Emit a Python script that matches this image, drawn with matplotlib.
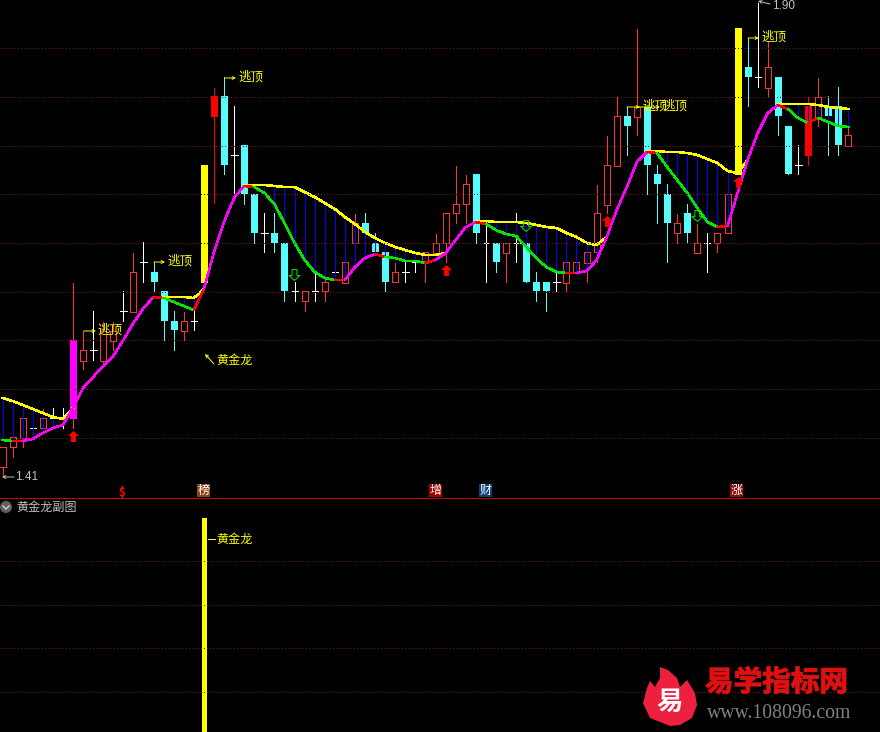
# 黄金龙 主图 + 副图
import matplotlib
matplotlib.use('Agg')
import matplotlib.pyplot as plt
import matplotlib.patheffects as pe
from matplotlib.patches import Polygon, Rectangle, Circle

plt.rcParams['font.family'] = ['Noto Sans CJK SC', 'DejaVu Sans']

nan = float('nan')

# K线: r空心阳 R实心阳 c阴 w十字 m紫柱 y黄柱
kinds = ('rrrwrwwmrw' 'rrwrwcccrw' 'yRcwccwccw' 'rwrwrrcccr' 'wwrrrrrcwc'
         'rwcccwrrrr' 'rrcrcccrcr' 'wrrycwrccw' 'Rrccr')
body_top = [51, 61, 80, 70, 80, 80, 80, 158, 148, 148, 167, 167, 187, 226, 236, 226, 207, 177, 177, 177,
            333, 402, 402, 343, 353, 304, 265, 265, 255, 207, 207, 207, 216, 226, 236, 275, 275, 255, 246, 226,
            226, 236, 246, 255, 285, 294, 314, 324, 255, 255, 255, 255, 255, 216, 216, 216, 236, 236, 246, 285,
            333, 382, 382, 391, 391, 324, 304, 275, 285, 255, 255, 265, 304, 470, 431, 421, 431, 421, 372, 333,
            392, 401, 392, 392, 363]
body_bot = [31, 51, 60, 70, 70, 80, 80, 79, 137, 148, 137, 157, 187, 186, 236, 216, 177, 168, 167, 177,
            215, 381, 333, 343, 304, 265, 265, 255, 207, 207, 197, 207, 207, 226, 215, 255, 265, 246, 216, 216,
            226, 236, 236, 245, 255, 285, 294, 265, 255, 236, 245, 255, 216, 207, 207, 216, 215, 226, 235, 246,
            293, 332, 372, 381, 333, 314, 275, 265, 265, 245, 255, 255, 265, 323, 421, 421, 410, 382, 324, 333,
            342, 381, 382, 353, 352]
highs = [51, 61, 80, 72, 89, 90, 90, 215, 167, 187, 176, 176, 207, 245, 256, 236, 207, 187, 186, 200,
         333, 410, 421, 392, 353, 304, 285, 285, 255, 216, 207, 225, 225, 227, 236, 284, 285, 265, 246, 235,
         236, 236, 246, 264, 285, 332, 323, 324, 276, 255, 255, 285, 255, 226, 216, 226, 236, 236, 246, 313,
         362, 401, 391, 469, 391, 333, 314, 284, 294, 274, 265, 265, 304, 470, 460, 495, 456, 421, 372, 353,
         401, 420, 402, 411, 372]
lows = [21, 41, 51, 68, 65, 70, 70, 70, 129, 138, 131, 148, 177, 186, 216, 207, 158, 148, 158, 168,
        215, 295, 324, 305, 294, 255, 246, 246, 197, 197, 187, 197, 197, 225, 215, 255, 255, 246, 207, 216,
        216, 226, 216, 238, 236, 275, 275, 255, 216, 226, 216, 236, 216, 197, 187, 207, 207, 226, 216, 236,
        285, 332, 343, 363, 304, 275, 236, 255, 255, 245, 226, 246, 265, 323, 392, 411, 401, 363, 324, 324,
        333, 372, 343, 343, 352]

# 下轨 (随趋势变色)
lower = [58, 57, 57, 59, 65, 70, 73, 90, 110, 121, 132, 142, 158, 175, 190, 201, 200, 196, 192, 188,
         209, 246, 276, 300, 312, 311, 305, 294, 275, 255, 238, 226, 220, 218, 218, 231, 240, 244, 241, 240,
         237, 237, 235, 238, 245, 258, 271, 276, 274, 268, 264, 262, 251, 240, 231, 226, 225, 225, 227, 238,
         261, 288, 311, 336, 346, 345, 331, 318, 305, 290, 276, 271, 272, 305, 338, 365, 385, 393, 389, 380,
         375, 380, 376, 372, 371]
# 每段颜色
seg_colors = ('grmmmmmmmmmmmmm' 'rgggr' 'mmmm' 'r' 'gggggggg' 'r' 'mmm' 'r' 'gggg' 'r' 'mmmm' 'r' 'gggggggg'
              'r' 'mmmmmmm' 'r' 'gggggg' 'r' 'mmmmm' 'r' 'gg' 'r' 'ggg')

# 上轨 (黄线)
upper = [100, 97, 93, 89, 85, 81, 79, 90, nan, nan, nan, nan, nan, nan, nan,
         201, 201, 201, 201, 200, 209, nan, nan, nan,
         313, 313, 313, 312, 311, 311, 306, 301, 295, 289, 281, 274, 266, 260, 255, 251, 248, 245, 243, 243, 245,
         nan, nan,
         277, 277, 276, 276, 276, 275, 273, 271, 270, 265, 261, 255, 253, 261, nan, nan, nan,
         347, 347, 346, 346, 345, 343, 339, 335, 327, 325, 338, nan, nan,
         394, 394, 394, 394, 393, 391, 390, 389]

# 上下轨之间画蓝柱的位置
stick_idx = list(range(0, 7)) + list(range(16, 20)) + list(range(26, 44)) + list(range(49, 60)) \
    + list(range(66, 73)) + list(range(78, 85))

# 买卖箭头
buy_idx = [7, 44, 60, 73]
buy_val = [62, 228, 277, 316]
sell_idx = [29, 52, 69]
sell_val = [223, 272, 282]

# 副图信号
sub_idx = [20]
sub_val = [1.0]

# 索引0在x=2.5, 间距10.07
W, H = 880, 732
x_left = -2.5 / 10.07
x_right = (W - 2.5) / 10.07

fig = plt.figure(figsize=(W / 100, H / 100), dpi=100, facecolor='black')
ax = fig.add_axes([0, (H - 498) / H, 1, 498 / H])
ax_sub = fig.add_axes([0, 0, 1, (H - 499) / H])
ov = fig.add_axes([0, 0, 1, 1])
for a in (ax, ax_sub, ov):
    a.axis('off')
    a.patch.set_alpha(0)

ax.set_xlim(x_left, x_right)
ax.set_ylim(0, 498)
ax_sub.set_xlim(x_left, x_right)
ax_sub.set_ylim(0, 233 / 214)
ov.set_xlim(0, W)
ov.set_ylim(H, 0)

px = 0.7  # 约1像素的线宽

RED = '#ff3232'
CYAN = '#54fcfc'
YELLOW = '#ffff00'
MAGENTA = '#ff00ff'
GREEN = '#00e800'
BLUE = '#0000ff'
GRID = '#701212'
LABEL = '#c0c0c0'
seg_map = {'g': GREEN, 'r': '#ff0000', 'm': MAGENTA}

# 网格
for y in [48, 97, 146, 194, 243, 292, 340, 389, 438, 561, 605, 648, 692]:
    ov.plot([0, W], [y, y], color=GRID, lw=px, linestyle=(0, (1, 3)), antialiased=False, zorder=1)
ov.plot([0, W], [498, 498], color='#c80000', lw=px, antialiased=False, zorder=1)

# 画K线, 实心柱中心右移半像素才能和影线对齐
for i, k in enumerate(kinds):
    if k == 'y':
        ax.bar(i + 0.05, body_top[i] - body_bot[i], bottom=body_bot[i], width=0.695, facecolor=YELLOW,
               edgecolor='none', antialiased=False, zorder=3)
        continue
    wick = {'r': RED, 'R': '#ff0000', 'c': CYAN, 'w': 'white', 'm': RED}[k]
    ax.plot([i, i], [lows[i], highs[i]], color=wick, lw=px, antialiased=False, solid_capstyle='butt', zorder=2)
    if k == 'w':
        ax.plot([i - 0.3, i + 0.35], [body_top[i], body_top[i]], color='white', lw=px, antialiased=False, zorder=3)
    elif k == 'r':
        ax.bar(i, body_top[i] - body_bot[i], bottom=body_bot[i], width=0.596, facecolor='black',
               edgecolor=RED, linewidth=px, antialiased=False, zorder=3)
    else:
        c = {'R': '#ff0000', 'c': CYAN, 'm': MAGENTA}[k]
        ax.bar(i + 0.05, body_top[i] - body_bot[i], bottom=body_bot[i], width=0.695, facecolor=c,
               edgecolor='none', antialiased=False, zorder=3)

# 蓝柱
for i in stick_idx:
    ax.plot([i, i], [lower[i], upper[i]], color=BLUE, lw=px, antialiased=False, solid_capstyle='butt', zorder=4)

# 上轨和下轨
ax.plot(range(len(upper)), upper, color=YELLOW, lw=1.1, antialiased=False, zorder=5)
for i, c in enumerate(seg_colors):
    ax.plot([i, i + 1], [lower[i], lower[i + 1]], color=seg_map[c], lw=1.1, antialiased=False,
            solid_capstyle='round', zorder=6)

# 箭头
arrow_up = [(0, 1), (1, 0.1), (0.45, 0.1), (0.45, -1), (-0.45, -1), (-0.45, 0.1), (-1, 0.1), (0, 1)]
arrow_down = [(x, -y) for x, y in arrow_up]
ax.scatter(buy_idx, buy_val, marker=arrow_up, s=62, c='#ff0000', linewidths=0, zorder=7)
ax.scatter(sell_idx, sell_val, marker=arrow_down, s=62, facecolors='none', edgecolors=GREEN, linewidths=px, zorder=7)

# 副图
ax_sub.bar([i + 0.05 for i in sub_idx], sub_val, width=0.4965, color=YELLOW, antialiased=False)


def top_label(x0, x1, y, tx):
    ov.annotate('', xy=(x1, y), xytext=(x0, y), zorder=8,
                arrowprops=dict(arrowstyle='->', color=YELLOW, lw=px, mutation_scale=5, shrinkA=0, shrinkB=0))
    ov.text(tx, y - 1, '逃顶', color=YELLOW, fontsize=9, va='center', ha='left', zorder=8)


top_label(84, 96, 331, 97)
top_label(154, 165, 262, 167)
top_label(225, 236, 78, 238)
top_label(627, 640, 107, 642)
top_label(637, 660, 107, 662)
top_label(748, 759, 38, 761)

# 黄金龙文字
ov.annotate('', xy=(205, 354), xytext=(214, 364), zorder=8,
            arrowprops=dict(arrowstyle='->', color=YELLOW, lw=px, mutation_scale=5, shrinkA=0, shrinkB=0))
ov.text(216, 360, '黄金龙', color=YELLOW, fontsize=8.7, va='center', ha='left', zorder=8)
ov.plot([208, 211], [539, 539], color=YELLOW, lw=px, antialiased=False, zorder=8)
ov.plot([212, 215], [539, 539], color=YELLOW, lw=px, antialiased=False, zorder=8)
ov.text(216, 539, '黄金龙', color=YELLOW, fontsize=8.7, va='center', ha='left', zorder=8)

# 最高最低价
ov.annotate('', xy=(2, 477), xytext=(14, 477), zorder=8,
            arrowprops=dict(arrowstyle='->', color=LABEL, lw=px, mutation_scale=5, shrinkA=0, shrinkB=0))
ov.text(15, 477, '1.41', color=LABEL, fontsize=8.5, va='center', ha='left', family='Liberation Sans', zorder=8)
ov.annotate('', xy=(758, 1), xytext=(770, 4), zorder=8,
            arrowprops=dict(arrowstyle='->', color=LABEL, lw=px, mutation_scale=5, shrinkA=0, shrinkB=0))
ov.text(772, 6, '1.90', color=LABEL, fontsize=8.5, va='center', ha='left', family='Liberation Sans', zorder=8)

# 信息地雷标记
ov.scatter([122], [487], marker='^', s=9, c='#ff0000', linewidths=0, zorder=8)
ov.text(122, 493, '$', color='#ff0000', fontsize=8, fontweight='bold', va='center', ha='center', zorder=8)
for cx, t, c in [(203.5, '榜', '#8b4513'), (435.5, '增', '#a00000'), (485.5, '财', '#0f3f70'), (736.5, '涨', '#8b0a0a')]:
    ov.add_patch(Rectangle((cx - 6.5, 484), 13, 13, facecolor=c, edgecolor='none', zorder=7))
    ov.text(cx, 490.5, t, color='white', fontsize=8.7, va='center', ha='center', zorder=8)

# 副图标题
ov.add_patch(Circle((6, 507), 6, facecolor='#606060', edgecolor='none', zorder=7))
ov.plot([3, 6, 9], [506, 509, 506], color='#e0e0e0', lw=0.9, zorder=8)
ov.text(16, 507, '黄金龙副图', color=LABEL, fontsize=8.7, va='center', ha='left', zorder=8)

# 水印
flame = [(670, 726), (650, 718), (643, 703), (647, 688), (650, 681), (655, 687), (660, 678), (660, 667),
         (668, 670), (677, 678), (680, 687), (687, 680), (695, 693), (697, 705), (692, 718), (680, 725)]
ov.add_patch(Polygon(flame, closed=True, facecolor='#ee2040', edgecolor='none', zorder=8))
ov.text(670, 702, '易', color='white', fontsize=19, fontweight='bold', va='center', ha='center', zorder=9)
ov.text(705, 682, '易学指标网', color='#e01010', fontsize=20.6, fontweight='bold', va='center', ha='left', zorder=9,
        path_effects=[pe.withStroke(linewidth=0.8, foreground='#d01010')])
ov.text(707, 713, 'www.108096.com', color='#808080', fontsize=14.2, va='center', ha='left',
        family='Liberation Serif', zorder=9)

fig.savefig('out.png', dpi=100, facecolor='black')
